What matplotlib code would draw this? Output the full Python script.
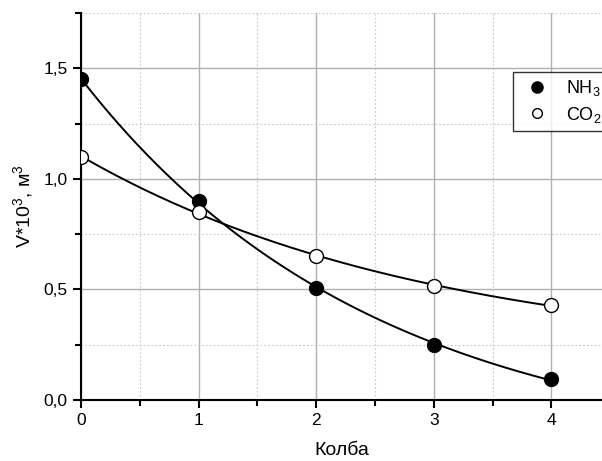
import numpy as np
import matplotlib
matplotlib.use("Agg")
import matplotlib.pyplot as plt
from matplotlib.ticker import MultipleLocator, FuncFormatter

# ── Data ────────────────────────────────────────────────────────────────────
flask = np.array([0, 1, 2, 3, 4])
v_nh3 = np.array([1.45, 0.90, 0.505, 0.25, 0.095])
v_co2 = np.array([1.10, 0.85, 0.65, 0.515, 0.43])


# ── Exponential decay fit y = y0 + A*exp(-x/t) (grid over t, LSQ for y0, A) ─
def exp_fit(x, y):
    best = None
    for t in np.linspace(0.2, 20, 2000):
        M = np.column_stack([np.ones_like(x, dtype=float), np.exp(-x / t)])
        coef, *_ = np.linalg.lstsq(M, y, rcond=None)
        err = np.sum((M @ coef - y) ** 2)
        if best is None or err < best[0]:
            best = (err, coef, t)
    _, (y0, a), t = best
    return lambda xx: y0 + a * np.exp(-xx / t)


plt.rcParams["font.family"] = ["Liberation Sans", "DejaVu Sans"]
plt.rcParams["mathtext.fontset"] = "custom"
plt.rcParams["mathtext.rm"] = "Liberation Sans"
plt.rcParams["mathtext.it"] = "Liberation Sans"

fig = plt.figure(figsize=(6.02, 4.61), dpi=100)
ax = fig.add_axes([81 / 602, 61 / 461, 1 - 81 / 602, 387 / 461])

xs = np.linspace(0, 4, 200)
f1 = exp_fit(flask, v_nh3)
f2 = exp_fit(flask, v_co2)
ax.plot(xs, f1(xs), color="black", lw=1.4, zorder=3)
ax.plot(xs, f2(xs), color="black", lw=1.4, zorder=3)
ax.plot(flask, v_nh3, "o", ms=10, mfc="black", mec="black", zorder=4, label="NH$_3$")
ax.plot(flask, v_co2, "o", ms=10, mfc="white", mec="black", mew=1.0, zorder=4, label="CO$_2$")

ax.set_xlim(0, 4.43)
ax.set_ylim(0, 1.75)
ax.xaxis.set_major_locator(MultipleLocator(1))
ax.xaxis.set_minor_locator(MultipleLocator(0.5))
ax.yaxis.set_major_locator(MultipleLocator(0.5))
ax.yaxis.set_minor_locator(MultipleLocator(0.25))
ax.yaxis.set_major_formatter(FuncFormatter(lambda v, p: f"{v:.1f}".replace(".", ",")))

ax.grid(which="major", color="#b0b0b0", lw=1.0, ls="-")
ax.grid(which="minor", color="#c8c8c8", lw=0.8, ls=(0, (1.5, 2)))
ax.set_axisbelow(True)
# no grid line along the top edge
for tick in ax.yaxis.get_minor_ticks():
    if abs(tick.get_loc() - 1.75) < 1e-6:
        tick.gridline.set_visible(False)

for s in ["top", "right"]:
    ax.spines[s].set_visible(False)
ax.spines["left"].set_linewidth(1.5)
ax.spines["bottom"].set_linewidth(1.5)
ax.tick_params(which="major", direction="out", length=6, width=1.5, labelsize=12.5)
ax.tick_params(which="minor", direction="out", length=4, width=1.5)

ax.set_xlabel("Колба", fontsize=14, labelpad=10)
ax.set_ylabel("V*10$^3$, м$^3$", fontsize=14, labelpad=6)

leg = ax.legend(loc="upper left", bbox_to_anchor=((513 - 81) / 521, (400 - 72) / 387),
                fontsize=13, frameon=True, fancybox=False, edgecolor="black",
                borderaxespad=0, handletextpad=0.6, markerscale=0.8, labelspacing=0.35,
                borderpad=0.35)
leg.get_frame().set_linewidth(1.0)
leg.legend_handles[1].set_markersize(7)

fig.savefig("out.png", dpi=100)
